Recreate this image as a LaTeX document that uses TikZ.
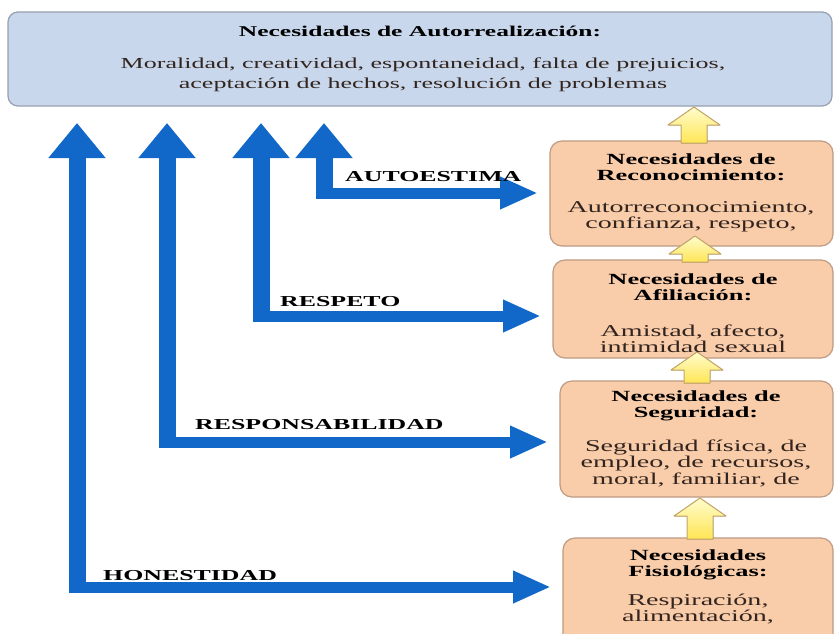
\documentclass[tikz,border=0pt]{standalone}
\usepackage{fontspec}
\setmainfont{Liberation Serif}[FakeStretch=1.7]
\usetikzlibrary{arrows.meta,calc}
\definecolor{blu}{RGB}{18,104,200}
\definecolor{topfill}{RGB}{200,215,235}
\definecolor{topline}{RGB}{150,160,175}
\definecolor{peach}{RGB}{249,204,170}
\definecolor{peachline}{RGB}{190,155,130}
\definecolor{yelA}{RGB}{255,252,205}
\definecolor{yelB}{RGB}{255,230,85}
\definecolor{yelline}{RGB}{195,165,105}
\definecolor{desc}{RGB}{50,36,30}
\tikzset{
 topbox/.style={draw=topline, fill=topfill, rounded corners=10pt, line width=1.2pt, inner sep=0pt, outer sep=0pt, anchor=north west},
 needbox/.style={draw=peachline, fill=peach, rounded corners=12pt, line width=1.2pt, inner sep=0pt, outer sep=0pt, anchor=north west},
 titletext/.style={font=\bfseries\fontsize{15.5}{16.5}\selectfont, align=center, inner sep=0pt},
 desctext/.style={font=\fontsize{16.5}{16.5}\selectfont, text=desc, align=center, inner sep=0pt},
 toptitle/.style={font=\bfseries\fontsize{15}{16.5}\selectfont, align=center, inner sep=0pt},
 toptext/.style={font=\fontsize{15.3}{20}\selectfont, text=desc, align=center, inner sep=0pt},
 vshaft/.style={blu, line width=17pt, -{Triangle[length=35pt,width=55pt]}},
 hshaft/.style={blu, line width=11pt, -{Triangle[length=38pt,width=30pt]}},
 lbl/.style={font=\bfseries\fontsize{15.2}{16}\selectfont, inner sep=0pt, anchor=base west},
 yel/.style={draw=yelline, line width=1pt, top color=yelA, bottom color=yelB, line join=round},
}
\newcommand\yelarrow[3]{\filldraw[yel] ({#1-13},#3) -- ({#1-13},{#2+18}) -- ({#1-26},{#2+18}) -- (#1,#2) -- ({#1+26},{#2+18}) -- ({#1+13},{#2+18}) -- ({#1+13},#3) -- cycle;}
\begin{document}
\begin{tikzpicture}[x=1pt,y=-1pt]
\clip (0,0) rectangle (837,633);
\fill[white] (0,0) rectangle (837,633);
% boxes
\node[topbox, minimum width=824pt, minimum height=94pt] (top) at (8,12) {};
\node[needbox, minimum width=283pt, minimum height=105pt] (rec) at (550,141) {};
\node[needbox, minimum width=280pt, minimum height=98pt] (afi) at (553,260) {};
\node[needbox, minimum width=273pt, minimum height=116pt] (seg) at (560,381) {};
\node[needbox, minimum width=270pt, minimum height=120pt] (fis) at (563,538) {};
% yellow arrows
\yelarrow{694}{107}{143}
\yelarrow{695}{236}{262}
\yelarrow{697}{352}{383}
\yelarrow{700}{498}{539}
% texts
\node[toptitle] (ttop) at (420,31) {Necesidades de Autorrealización:};
\node[toptext] (dtop) at (423,75) {Moralidad, creatividad, espontaneidad, falta de prejuicios,\\aceptación de hechos, resolución de problemas};
\node[titletext] (trec) at (691,167) {Necesidades de\\Reconocimiento:};
\node[desctext] (drec) at (691,217) {Autorreconocimiento,\\confianza, respeto,};
\node[titletext] (tafi) at (693,287) {Necesidades de\\Afiliación:};
\node[desctext] (dafi) at (693,339) {Amistad, afecto,\\intimidad sexual};
\node[titletext] (tseg) at (696,406) {Necesidades de\\Seguridad:};
\node[desctext] (dseg) at (696,463) {Seguridad física, de\\empleo, de recursos,\\moral, familiar, de};
\node[titletext] (tfis) at (698,565) {Necesidades\\Fisiológicas:};
\node[desctext] (dfis) at (698,609) {Respiración,\\alimentación,};
% blue arrows
\coordinate (c1) at (77,587);
\coordinate (c2) at (167,442);
\coordinate (c3) at (261,316);
\coordinate (c4) at (324,193);
\foreach \c/\b in {c1/fis, c2/seg, c3/afi, c4/rec}{
  \draw[vshaft, shorten >=17pt] ([yshift=-5.5pt]\c) -- (\c |- top.south);
  \draw[hshaft, shorten >=12pt] ([xshift=-8.5pt]\c) -- (\c -| \b.west);
}
% labels
\node[lbl] (l4) at (345,181) {AUTOESTIMA};
\node[lbl] (l3) at (280,306) {RESPETO};
\node[lbl] (l2) at (195,429) {RESPONSABILIDAD};
\node[lbl] (l1) at (103,580) {HONESTIDAD};
\end{tikzpicture}
\end{document}
